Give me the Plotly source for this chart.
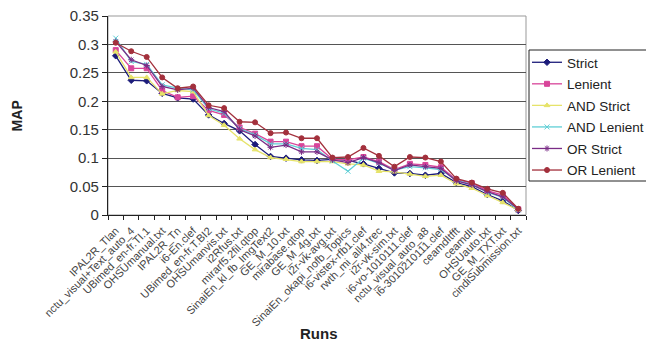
import plotly.graph_objects as go

runs = ["IPAL2R_Tlan", "nctu_visual+Text_auto_4", "UBimed_en-fr.TI.1", "OHSUmanual.txt",
        "IPAL2R_Tn", "i6-En.clef", "UBimed_en-fr.T.BI2", "OHSUmanvis.txt", "i2Rfus.txt",
        "mirarf5.2fil.qtop", "SinaiEn_kl_fb_ImgText2", "GE_M_10.txt", "mirabase.qtop",
        "GE_M_4g.txt", "i2r-vk-avg.txt", "SinaiEn_okapi_nofb_Topics", "i6-vistex-rfb1.clef",
        "rwth_mi_all4.trec", "i2r-vk-sim.txt", "i6-vo-1010111.clef", "nctu_visual_auto_a8",
        "i6-3010210111.clef", "ceamdItfft", "ceamdIt", "OHSUauto.txt", "GE_M_TXT.txt",
        "cindiSubmission.txt"]

strict = [0.280, 0.237, 0.236, 0.214, 0.206, 0.204, 0.176, 0.161, 0.148, 0.124, 0.103, 0.100, 0.097, 0.096,
          0.098, 0.096, 0.090, 0.082, 0.074, 0.073, 0.070, 0.073, 0.057, 0.050, 0.036, 0.025, 0.008]
lenient = [0.290, 0.258, 0.258, 0.219, 0.207, 0.209, 0.184, 0.176, 0.154, 0.143, 0.129, 0.129, 0.121, 0.121,
           0.098, 0.097, 0.102, 0.094, 0.080, 0.090, 0.088, 0.084, 0.062, 0.056, 0.043, 0.035, 0.010]
and_strict = [0.287, 0.242, 0.242, 0.213, 0.219, 0.217, 0.175, 0.158, 0.134, 0.115, 0.101, 0.098, 0.094, 0.094,
              0.094, 0.090, 0.088, 0.077, 0.076, 0.072, 0.068, 0.070, 0.055, 0.047, 0.034, 0.022, 0.009]
and_lenient = [0.311, 0.270, 0.265, 0.229, 0.223, 0.220, 0.187, 0.179, 0.152, 0.141, 0.125, 0.125, 0.117, 0.115,
               0.095, 0.077, 0.100, 0.091, 0.079, 0.085, 0.083, 0.080, 0.061, 0.054, 0.040, 0.031, 0.009]
or_strict = [0.305, 0.273, 0.263, 0.226, 0.220, 0.223, 0.189, 0.182, 0.150, 0.139, 0.119, 0.123, 0.111, 0.111,
             0.097, 0.092, 0.101, 0.092, 0.078, 0.088, 0.085, 0.082, 0.060, 0.053, 0.041, 0.032, 0.010]
or_lenient = [0.303, 0.288, 0.278, 0.242, 0.223, 0.226, 0.193, 0.188, 0.164, 0.163, 0.144, 0.145, 0.135, 0.135,
              0.101, 0.102, 0.118, 0.104, 0.085, 0.102, 0.101, 0.094, 0.064, 0.057, 0.046, 0.039, 0.011]

y_ticks = [0, 0.05, 0.1, 0.15, 0.2, 0.25, 0.3, 0.35]
y_tick_text = ["0", "0.05", "0.1", "0.15", "0.2", "0.25", "0.3", "0.35"]

series = [
    ("Strict", strict, "#1c1c7a", "diamond"),
    ("Lenient", lenient, "#d8459a", "square"),
    ("AND Strict", and_strict, "#e6e36a", "triangle-up"),
    ("AND Lenient", and_lenient, "#5fcfd6", "x-thin"),
    ("OR Strict", or_strict, "#7a2c86", "asterisk"),
    ("OR Lenient", or_lenient, "#a3303c", "circle"),
]

FONT = "Liberation Sans, Arial, sans-serif"
W, H = 646, 342

fig = go.Figure()
for name, vals, color, sym in series:
    fig.add_trace(go.Scatter(
        x=runs, y=vals, name=name, mode="lines+markers", legendgroup=name,
        line=dict(color=color, width=1.3),
        marker=dict(symbol=sym, size=5, color=color, line=dict(color=color, width=1)),
    ))

fig.update_layout(
    width=W, height=H,
    margin=dict(l=108, r=120, t=16, b=127, autoexpand=False),
    paper_bgcolor="white", plot_bgcolor="white",
    font=dict(family=FONT, color="#222"),
    showlegend=True,
    legend=dict(
        xref="container", yref="container",
        x=527 / W, y=1 - 47 / H, xanchor="left", yanchor="top",
        borderwidth=0, bgcolor="rgba(0,0,0,0)",
        font=dict(size=13.5, family=FONT, color="#222"),
        traceorder="grouped", tracegroupgap=1, itemwidth=30,
    ),
    xaxis=dict(
        type="category", tickangle=-45, tickfont=dict(size=11, family=FONT, color="#444"),
        showline=True, linecolor="#222", linewidth=1.2, automargin=False,
        ticks="outside", ticklen=4, tickcolor="#222", tickson="boundaries",
        ticklabelstandoff=4,
        showgrid=False, range=[-0.5, len(runs) - 0.5],
    ),
    yaxis=dict(
        range=[0, 0.35], tickvals=y_ticks, ticktext=y_tick_text, automargin=False,
        tickfont=dict(size=15, family=FONT, color="#333"),
        showline=True, linecolor="#222", linewidth=1.2,
        ticks="outside", ticklen=5, tickcolor="#222",
        showgrid=True, gridcolor="#555", gridwidth=1.2, zeroline=False,
    ),
    shapes=[
        dict(type="rect", xref="paper", yref="paper", x0=0, y0=0, x1=1, y1=1,
             line=dict(color="#999", width=1), layer="below"),
        dict(type="rect", xref="paper", yref="paper",
             x0=(529 - 108) / 418, x1=(660 - 108) / 418,
             y0=(215 - 181) / 199, y1=(215 - 50) / 199,
             line=dict(color="#222", width=1), fillcolor="rgba(0,0,0,0)", layer="above"),
    ],
    annotations=[
        dict(text="<b>MAP</b>", xref="paper", yref="paper", x=-0.218, y=0.5,
             textangle=-90, showarrow=False, font=dict(size=14, family=FONT, color="#222"),
             xanchor="center", yanchor="middle"),
        dict(text="<b>Runs</b>", xref="paper", yref="paper", x=0.505, y=-0.593,
             showarrow=False, font=dict(size=15, family=FONT, color="#222"),
             xanchor="center", yanchor="middle"),
    ],
)

fig.write_html("out.html", config={"displayModeBar": False},
               post_script="document.body.style.margin='0';")
